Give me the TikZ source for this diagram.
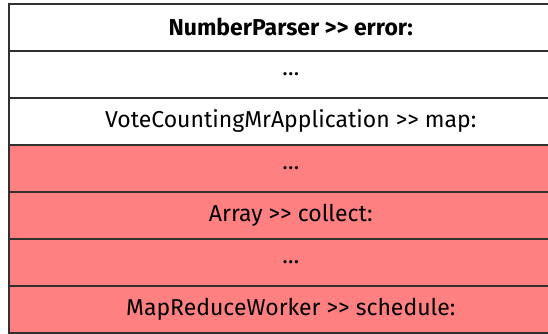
\documentclass[tikz,border=0pt]{standalone}
\usepackage{fontspec}
\setmainfont{Fira Sans}
\definecolor{framered}{HTML}{FF8080}
\definecolor{frameline}{HTML}{303030}

\begin{document}
\begin{tikzpicture}[x=1pt,y=-1pt]
\tikzstyle{frame} = [rectangle, draw=frameline, line width=1.5pt, anchor=north west,
  minimum width=564pt, minimum height=47pt, inner sep=0pt,
  font=\fontsize{23}{26}\selectfont]
\tikzstyle{live} = [frame, fill=white]
\tikzstyle{dead} = [frame, fill=framered]

\useasboundingbox (0,0) rectangle (548,333);
\clip (0,0) rectangle (548,333);

\node[live] (f1) at (8,3)   {\textbf{NumberParser >{}> error:}};
\node[live] (f2) at (8,50)  {\dots};
\node[live] (f3) at (8,97)  {VoteCountingMrApplication >{}> map:};
\node[dead] (f4) at (8,144) {\dots};
\node[dead] (f5) at (8,191) {Array >{}> collect:};
\node[dead] (f6) at (8,238) {\dots};
\node[dead] (f7) at (8,285) {MapReduceWorker >{}> schedule:};
\end{tikzpicture}
\end{document}
